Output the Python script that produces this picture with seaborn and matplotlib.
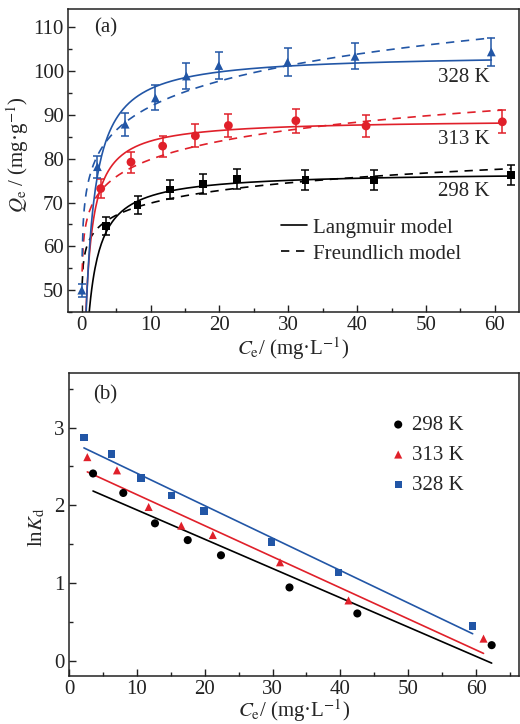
import numpy as np
import pandas as pd
import matplotlib
matplotlib.use('Agg')
import matplotlib.pyplot as plt
import seaborn as sns
from matplotlib.lines import Line2D
from matplotlib.ticker import MultipleLocator

# ---- data ----
temps = ['298 K', '313 K', '328 K']
colors = ['black', '#e0202a', '#2256a6']
markers = ['s', 'o', '^']
markers_b = ['o', '^', 's']

# (a) adsorption isotherms
ce_298 = [3.57, 8.1, 12.76, 17.6, 22.5, 32.5, 42.5, 62.4]
qe_298 = [64.6, 69.5, 73.0, 74.3, 75.4, 75.2, 75.2, 76.3]
err_298 = [2.0, 2.0, 2.2, 2.3, 2.3, 2.3, 2.3, 2.25]
ce_313 = [2.75, 7.15, 11.75, 16.5, 21.3, 31.1, 41.3, 61.1]
qe_313 = [73.2, 79.25, 82.9, 85.25, 87.6, 88.7, 87.5, 88.45]
err_313 = [2.2, 2.4, 2.4, 2.6, 2.6, 2.7, 2.55, 2.6]
ce_328 = [0.0, 2.27, 6.3, 10.7, 15.2, 19.9, 29.9, 39.7, 59.5]
qe_328 = [50.0, 78.2, 87.9, 93.9, 98.9, 101.3, 102.1, 103.4, 104.4]
err_328 = [1.45, 2.5, 2.67, 2.85, 3.0, 3.0, 3.1, 3.0, 3.2]

# model parameters (Langmuir: qm, KL ; Freundlich: KF, 1/n)
lang_qm = [77.0, 89.0, 104.0]
lang_kl = [1.3, 1.7, 1.2]
freu_kf = [61.1, 67.5, 75.1]
freu_n_inv = [0.0583, 0.073, 0.088]

# (b) lnKd vs Ce
ceb_298 = [3.54, 8.0, 12.67, 17.5, 22.4, 32.5, 42.5, 62.3]
lnkd_298 = [2.41, 2.16, 1.77, 1.555, 1.36, 0.947, 0.613, 0.206]
ceb_313 = [2.7, 7.07, 11.74, 16.55, 21.2, 31.1, 41.2, 61.1]
lnkd_313 = [2.62, 2.45, 1.98, 1.74, 1.62, 1.27, 0.78, 0.29]
ceb_328 = [2.2, 6.24, 10.6, 15.1, 19.9, 29.8, 39.7, 59.5]
lnkd_328 = [2.87, 2.66, 2.35, 2.125, 1.93, 1.53, 1.14, 0.45]
fit_slope = [-0.0376, -0.0399, -0.04164]
fit_icpt = [2.318, 2.538, 2.83]

ce_a = [ce_298, ce_313, ce_328]
qe_a = [qe_298, qe_313, qe_328]
err_a = [err_298, err_313, err_328]
ce_b = [ceb_298, ceb_313, ceb_328]
lnkd_b = [lnkd_298, lnkd_313, lnkd_328]

FS = 15

sns.set_theme(style='ticks')
plt.rcParams.update({
    'font.family': ['Liberation Serif', 'DejaVu Serif'],
    'mathtext.fontset': 'stix',
    'font.size': FS,
    'axes.labelsize': FS,
    'legend.fontsize': FS,
    'axes.linewidth': 1.1,
    'axes.edgecolor': '#222222',
    'xtick.direction': 'in',
    'ytick.direction': 'in',
    'xtick.major.size': 5, 'ytick.major.size': 5,
    'xtick.minor.size': 3, 'ytick.minor.size': 3,
    'xtick.major.width': 1, 'ytick.major.width': 1,
    'xtick.minor.width': 1, 'ytick.minor.width': 1,
    'xtick.labelsize': FS, 'ytick.labelsize': FS,
    'xtick.color': '#222222', 'ytick.color': '#222222',
})

fig = plt.figure(figsize=(5.2, 7.24), dpi=100)
ax1 = fig.add_axes([0.1308, 0.569, 0.867, 0.4185])
ax2 = fig.add_axes([0.1327, 0.0663, 0.865, 0.4185])

# ---- panel (a) ----
for i in range(3):
    x = np.array(ce_a[i])
    cl = np.linspace(0.2, x.max(), 400)
    cf = np.linspace(0.05, x.max(), 400)
    lang = lang_qm[i] * lang_kl[i] * cl / (1 + lang_kl[i] * cl)
    freu = freu_kf[i] * cf ** freu_n_inv[i]
    sns.lineplot(x=cl, y=lang, ax=ax1, color=colors[i], lw=1.2, sort=False)
    sns.lineplot(x=cf, y=freu, ax=ax1, color=colors[i], lw=1.2, sort=False,
                 linestyle=(0, (5, 4)))
    ax1.errorbar(ce_a[i], qe_a[i], yerr=err_a[i], fmt='none', ecolor=colors[i],
                 elinewidth=1.1, capsize=3.2, capthick=1.1, zorder=3)
    sns.scatterplot(x=ce_a[i], y=qe_a[i], ax=ax1, color=colors[i], marker=markers[i],
                    s=40 if markers[i] != 's' else 32, edgecolor='none', zorder=4)

ax1.set_xlim(-2, 63.5)
ax1.set_ylim(45, 114.2)
ax1.xaxis.set_major_locator(MultipleLocator(10))
ax1.xaxis.set_minor_locator(MultipleLocator(5))
ax1.yaxis.set_major_locator(MultipleLocator(10))
ax1.yaxis.set_minor_locator(MultipleLocator(5))
ax1.tick_params(which='both', pad=3)
ax1.set_xlabel(r'$C_\mathrm{e}$/ (mg·L$^{-1}$)')
ax1.set_ylabel(r'$Q_\mathrm{e}$ / (mg·g$^{-1}$)')
ax1.xaxis.set_label_coords(0.5, -0.122)
ax1.xaxis.label.set_va('center')
ax1.yaxis.set_label_coords(-0.112, 0.52)
ax1.yaxis.label.set_va('center')
ax1.text(1.75, 110, '(a)', va='center', ha='left')
label_y = [72.6, 84.4, 98.5]
for i in range(3):
    ax1.text(59.3, label_y[i], temps[i], ha='right', va='center')
handles = [Line2D([], [], color='black', lw=1.2),
           Line2D([], [], color='black', lw=1.2, linestyle=(0, (5, 4)))]
ax1.legend(handles, ['Langmuir model', 'Freundlich model'], loc='upper left',
           bbox_to_anchor=(0.472, 0.31), frameon=False, borderpad=0,
           borderaxespad=0, handlelength=1.25, handletextpad=0.3,
           labelspacing=0.3)

# ---- panel (b) ----
for i in range(3):
    xs = np.array(ce_b[i])
    line = pd.DataFrame({'x': [xs.min(), xs.max()]})
    line['y'] = fit_icpt[i] + fit_slope[i] * line['x']
    sns.lineplot(data=line, x='x', y='y', ax=ax2, color=colors[i], lw=1.2)
    sns.scatterplot(x=ce_b[i], y=lnkd_b[i], ax=ax2, color=colors[i], marker=markers_b[i],
                    s=34 if markers_b[i] != 's' else 28, edgecolor='none', zorder=4,
                    label=temps[i])

ax2.set_xlim(0, 66.3)
ax2.set_ylim(-0.19, 3.70)
ax2.xaxis.set_major_locator(MultipleLocator(10))
ax2.xaxis.set_minor_locator(MultipleLocator(5))
ax2.yaxis.set_major_locator(MultipleLocator(1))
ax2.yaxis.set_minor_locator(MultipleLocator(0.5))
ax2.tick_params(which='both', pad=3)
ax2.set_xlabel(r'$C_\mathrm{e}$/ (mg·L$^{-1}$)')
ax2.set_ylabel(r'ln$K_\mathrm{d}$')
ax2.xaxis.set_label_coords(0.5, -0.116)
ax2.xaxis.label.set_va('center')
ax2.yaxis.set_label_coords(-0.071, 0.49)
ax2.yaxis.label.set_va('center')
ax2.text(3.5, 3.42, '(b)', va='center', ha='left')
ax2.legend(loc='upper left', bbox_to_anchor=(0.718, 0.86), frameon=False,
           borderpad=0, borderaxespad=0, handlelength=0.6, handletextpad=0.35,
           labelspacing=0.5, markerscale=1.0)

for ax in (ax1, ax2):
    for sp in ax.spines.values():
        sp.set_visible(True)

fig.savefig('out.png', dpi=100)
